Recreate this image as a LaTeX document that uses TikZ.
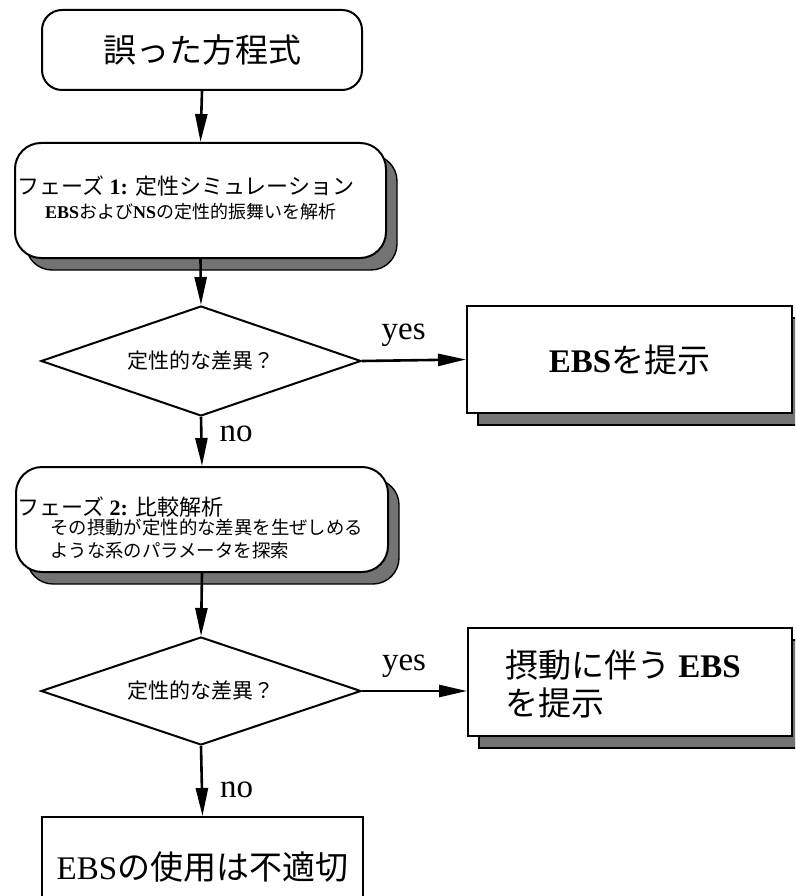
\documentclass[tikz,border=0pt]{standalone}
\usepackage{fontspec}
\setmainfont{Liberation Serif}
\newfontfamily\jp{Noto Sans CJK JP}
\usetikzlibrary{shapes.geometric,arrows.meta,shadows}
\begin{document}
\begin{tikzpicture}[x=1pt,y=-1pt,
  box/.style={draw,line width=2pt,fill=white,inner sep=0pt},
  shade/.style={drop shadow={shadow xshift=11pt,shadow yshift=-12pt,opacity=1,fill=black!55,draw=black,line width=1.4pt}},
  dec/.style={draw,diamond,aspect=2.9,line width=2pt,fill=white,inner sep=0pt,minimum width=320pt,minimum height=110pt,font=\fontsize{21}{24}\selectfont\jp},
  conn/.style={line width=2.6pt,-{Triangle[length=28pt,width=12pt]}},
  lbl/.style={font=\fontsize{33}{36}\selectfont,inner sep=0pt},
  big/.style={font=\fontsize{33}{40}\selectfont,inner sep=0pt},
  head/.style={font=\fontsize{22}{26}\selectfont,inner sep=0pt,anchor=west},
  small/.style={font=\fontsize{18.4}{22}\selectfont,inner sep=0pt,anchor=west}
]
\useasboundingbox (0,0) rectangle (795,896);
\clip (0,0) rectangle (795,896);

% top box
\node[box,rounded corners=20pt,minimum width=320pt,minimum height=80pt,big] (start) at (202,50) {\jp 誤った方程式};

% phase 1
\node[box,shade,rounded corners=26pt,minimum width=371pt,minimum height=115pt] (p1) at (200.5,200.5) {};
\node[head] (p1a) at (17,186) {{\jp フェーズ} \textbf{1:} {\jp 定性シミュレーション}};
\node[small,font=\fontsize{18}{22}\selectfont] (p1b) at (45,212) {\textbf{EBS}{\jp および}\textbf{NS}{\jp の定性的振舞いを解析}};

% decision 1
\node[dec] (d1) at (201,361) {定性的な差異？};

% EBS box 1
\node[box,shade,minimum width=325pt,minimum height=107pt,big] (r1) at (629.5,359.5) {\textbf{EBS}{\jp を提示}};

% phase 2
\node[box,shade,rounded corners=26pt,minimum width=372pt,minimum height=105pt] (p2) at (202,519.5) {};
\node[head] (p2a) at (17,507) {{\jp フェーズ} \textbf{2:} {\jp 比較解析}};
\node[small] (p2b) at (50,528) {\jp その摂動が定性的な差異を生ぜしめる};
\node[small] (p2c) at (50,551) {\jp ような系のパラメータを探索};

% decision 2
\node[dec,minimum height=108pt] (d2) at (201,691) {定性的な差異？};

% EBS box 2
\node[box,shade,minimum width=324pt,minimum height=108pt] (r2) at (630,682) {};
\node[big,anchor=west] (r2a) at (505,665) {{\jp 摂動に伴う} \textbf{EBS}};
\node[big,anchor=west] (r2b) at (505,703) {\jp を提示};

% bottom box
\node[box,minimum width=321pt,minimum height=100pt,big] (end) at (202.5,867) {EBS{\jp の使用は不適切}};

% connectors
\draw[conn] (start.south) -- (p1.north);
\draw[conn] (p1.south) -- (d1.north);
\draw[conn] (d1.east) -- node[lbl,pos=0.4,above=12pt] (y1) {yes} (r1.west);
\draw[conn] (d1.south) -- node[lbl,pos=0.35,right=17pt] (n1) {no} (p2.north);
\draw[conn] (p2.south) -- (d2.north);
\draw[conn] (d2.east) -- node[lbl,pos=0.4,above=12pt] (y2) {yes} (r2.west|-d2.east);
\draw[conn] (d2.south) -- node[lbl,pos=0.62,right=17pt] (n2) {no} (end.north);
\end{tikzpicture}
\end{document}
